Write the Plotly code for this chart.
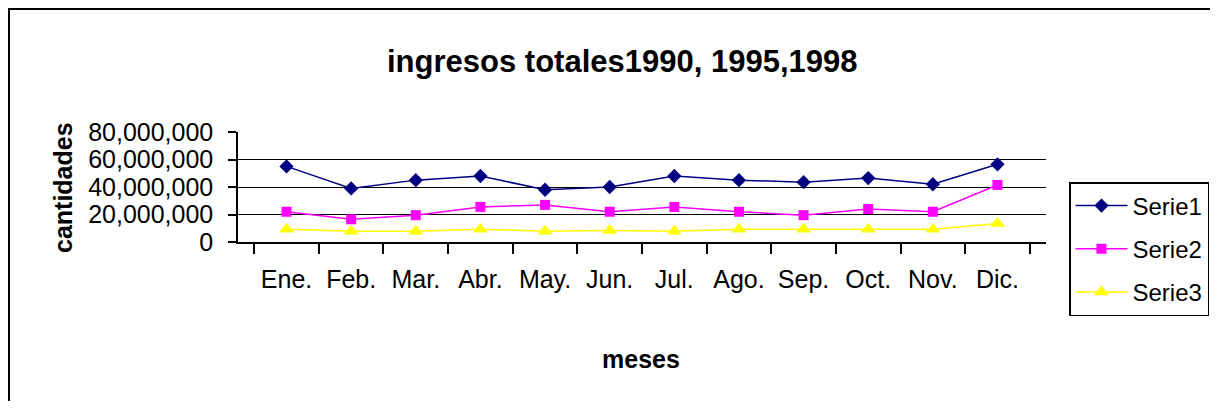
import plotly.graph_objects as go

meses = ["Ene.", "Feb.", "Mar.", "Abr.", "May.", "Jun.", "Jul.", "Ago.", "Sep.", "Oct.", "Nov.", "Dic."]
serie1 = [55000000, 39000000, 45000000, 48000000, 38000000, 40000000, 48000000, 45000000, 43500000, 46500000, 42000000, 56500000]
serie2 = [22000000, 16500000, 19500000, 25500000, 27000000, 22000000, 25500000, 22000000, 19500000, 24000000, 22000000, 41500000]
serie3 = [9300000, 7800000, 7800000, 9300000, 7800000, 8300000, 7800000, 9300000, 9300000, 9300000, 9300000, 13400000]

FONT = "Liberation Sans, Arial, sans-serif"

fig = go.Figure()
fig.add_trace(go.Scatter(x=meses, y=serie1, name="Serie1", mode="lines+markers", legendgroup="a",
                         line=dict(color="#000080", width=1.5),
                         marker=dict(symbol="diamond", size=11, color="#000080")))
fig.add_trace(go.Scatter(x=meses, y=serie2, name="Serie2", mode="lines+markers", legendgroup="b",
                         line=dict(color="#FF00FF", width=1.5),
                         marker=dict(symbol="square", size=10, color="#FF00FF")))
fig.add_trace(go.Scatter(x=meses, y=serie3, name="Serie3", mode="lines+markers", legendgroup="c",
                         line=dict(color="#FFFF00", width=1.5),
                         marker=dict(symbol="triangle-up", size=13, color="#FFFF00")))

# page body has an 8px margin: design in reference pixels and shift by OFF
OFF = 8
W, H = 1218 - 2 * OFF, 409 - 2 * OFF
PL, PR, PT, PB = 238 - OFF, 1046 - OFF, 132 - OFF, 242 - OFF
L, R, T, B = PL, W - PR, PT, H - PB
pw, ph = PR - PL, PB - PT

def px_x(p):
    return (p - OFF - PL) / pw

def px_y(p):
    return (PB - (p - OFF)) / ph

fig.update_layout(
    width=W, height=H,
    margin=dict(l=L, r=R, t=T, b=B, autoexpand=False),
    paper_bgcolor="white", plot_bgcolor="white",
    font=dict(family=FONT, size=25, color="black"),
    showlegend=True,
    legend=dict(x=px_x(1069), y=px_y(182), xanchor="left", yanchor="top",
                bordercolor="black", borderwidth=1.5, bgcolor="white",
                font=dict(size=24, family=FONT), tracegroupgap=9,
                itemwidth=52, maxheight=300),
    xaxis=dict(type="category", showline=True, linecolor="black", linewidth=1.5,
               ticks="outside", ticklen=10, tickcolor="black", tickwidth=1.5,
               tickson="boundaries", showgrid=False, zeroline=False,
               tickfont=dict(size=25, family=FONT), ticklabelstandoff=14,
               fixedrange=True),
    yaxis=dict(range=[0, 80000000], dtick=20000000, tickformat=",d",
               showline=True, linecolor="black", linewidth=1.5,
               ticks="outside", ticklen=8, tickcolor="black", tickwidth=1.5,
               showgrid=True, gridcolor="black", gridwidth=1.2, zeroline=False,
               tickfont=dict(size=25, family=FONT), ticklabelstandoff=10,
               fixedrange=True),
    annotations=[
        dict(text="<b>ingresos totales1990, 1995,1998</b>", xref="paper", yref="paper",
             x=px_x(622), y=px_y(62), xanchor="center", yanchor="middle", showarrow=False,
             font=dict(size=31, family=FONT)),
        dict(text="<b>meses</b>", xref="paper", yref="paper",
             x=px_x(641), y=px_y(359), xanchor="center", yanchor="middle", showarrow=False,
             font=dict(size=25, family=FONT)),
        dict(text="<b>cantidades</b>", xref="paper", yref="paper", textangle=-90,
             x=px_x(63), y=px_y(188), xanchor="center", yanchor="middle", showarrow=False,
             font=dict(size=25, family=FONT)),
    ],
    shapes=[
        dict(type="rect", xref="paper", yref="paper",
             x0=px_x(9), x1=px_x(1240), y0=px_y(440), y1=px_y(9),
             line=dict(color="black", width=2), fillcolor="rgba(0,0,0,0)", layer="below"),
    ],
)

fig.write_html("out.html")
